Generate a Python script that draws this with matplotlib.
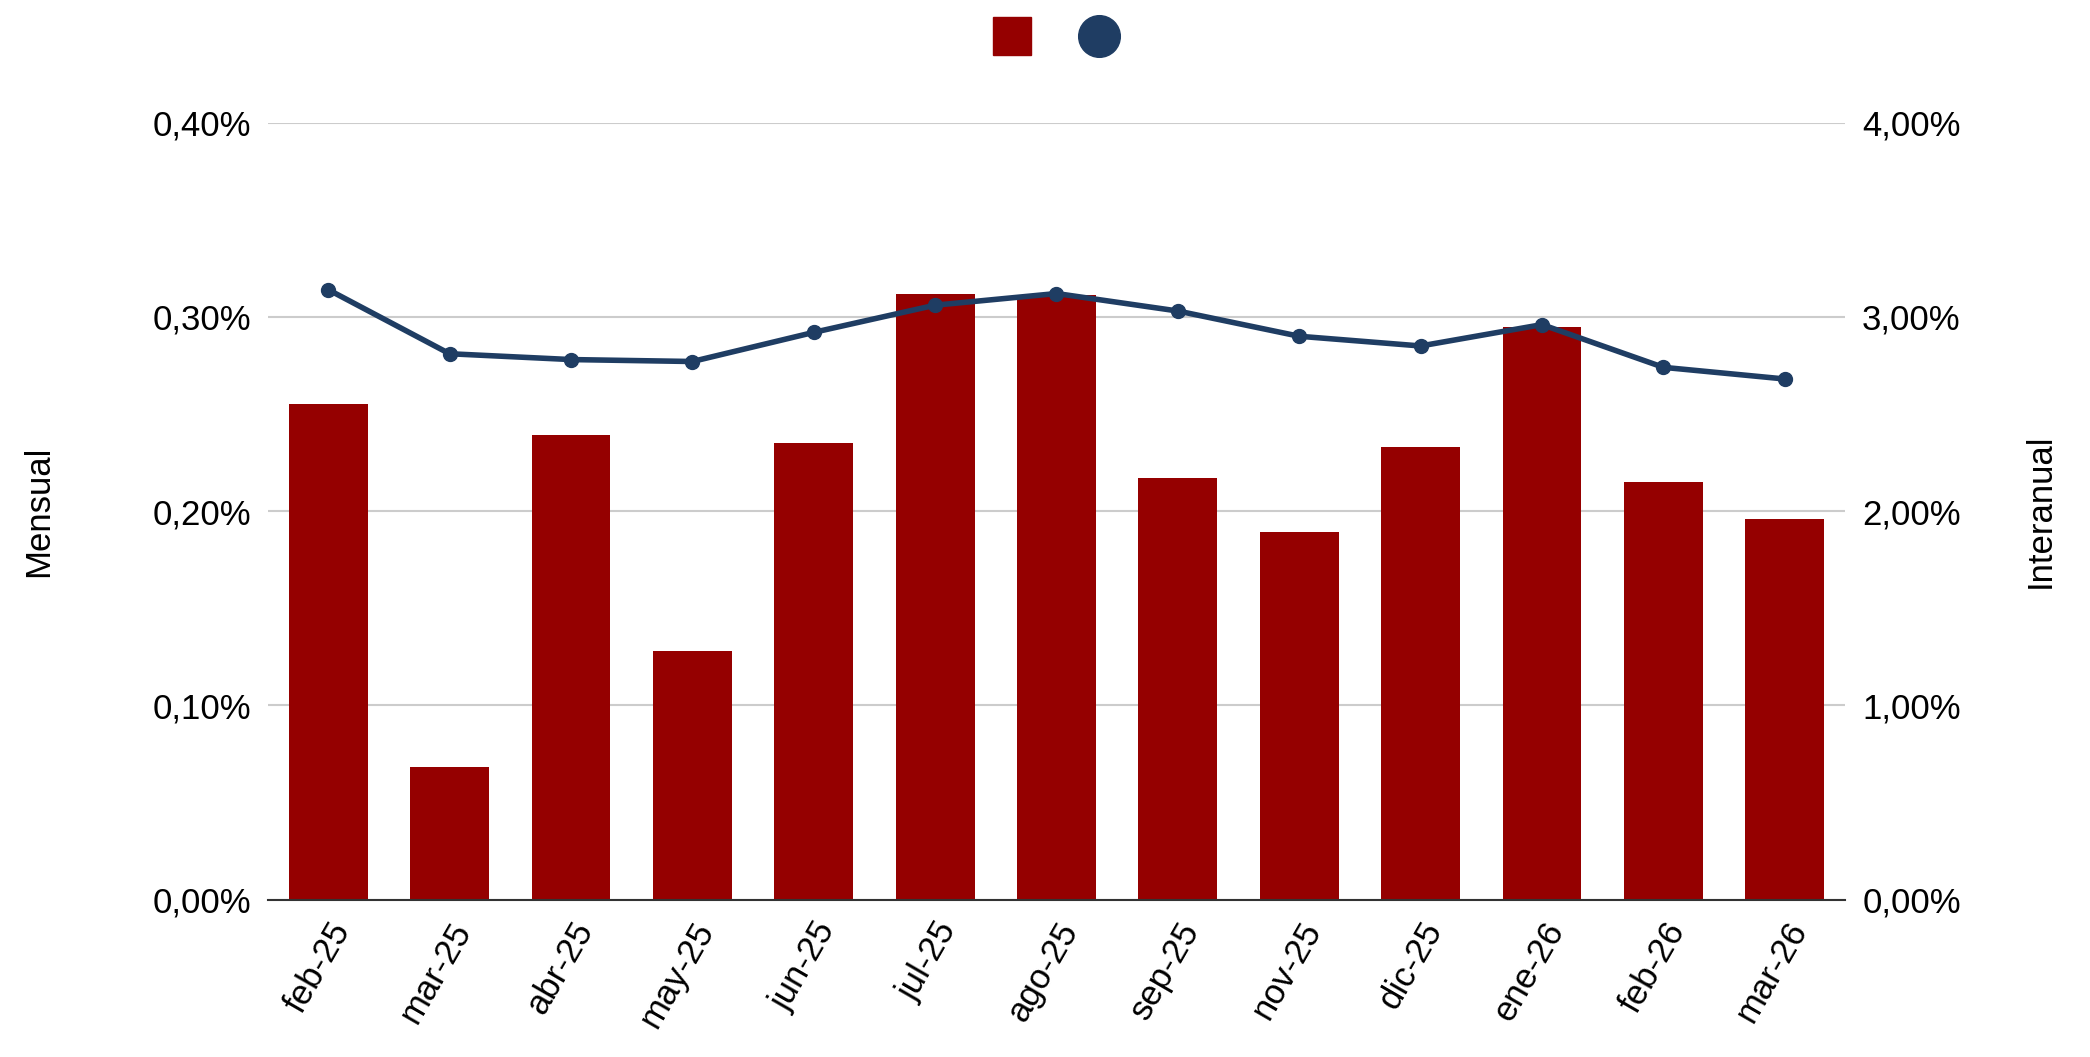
import matplotlib
matplotlib.use('Agg')
import matplotlib.pyplot as plt
from matplotlib.lines import Line2D
from matplotlib.ticker import FuncFormatter

months = ['feb-25', 'mar-25', 'abr-25', 'may-25', 'jun-25', 'jul-25', 'ago-25',
          'sep-25', 'nov-25', 'dic-25', 'ene-26', 'feb-26', 'mar-26']
mensual = [0.255, 0.068, 0.239, 0.128, 0.235, 0.312, 0.311,
           0.217, 0.189, 0.233, 0.295, 0.215, 0.196]
interanual = [3.14, 2.81, 2.78, 2.77, 2.92, 3.06, 3.12,
              3.03, 2.90, 2.85, 2.96, 2.74, 2.68]

bar_color = '#950000'
line_color = '#1f3d63'
plt.rcParams['font.family'] = ['Liberation Sans', 'DejaVu Sans']

def pct(v, pos):
    return '{:.2f}%'.format(v).replace('.', ',')

def main():
    fig = plt.figure(figsize=(20.9, 10.57), dpi=100)
    ax = fig.add_axes([0.128, 0.149, 0.755, 0.735])
    x = range(len(months))
    ax.bar(x, mensual, width=0.65, color=bar_color, zorder=2)
    ax.set_ylim(0, 0.4)
    ax.set_yticks([0, 0.1, 0.2, 0.3, 0.4])
    ax.yaxis.set_major_formatter(FuncFormatter(pct))
    ax.grid(axis='y', color='#cccccc', linewidth=1.5, zorder=0)
    ax.set_xlim(-0.5, len(months) - 0.5)
    ax.set_xticks(list(x))
    ax.set_xticklabels(months, rotation=60, ha='right', rotation_mode='anchor')
    for s in ['top', 'right', 'left']:
        ax.spines[s].set_visible(False)
    ax.spines['bottom'].set_color('#333333')
    ax.spines['bottom'].set_linewidth(1.5)
    ax.tick_params(length=0, labelsize=25, pad=12)
    ax.set_ylabel('Mensual', fontsize=25, labelpad=70)

    ax2 = ax.twinx()
    ax2.plot(list(x), interanual, color=line_color, linewidth=4, marker='o',
             markersize=10, zorder=3)
    ax2.set_ylim(0, 4)
    ax2.set_yticks([0, 1, 2, 3, 4])
    ax2.yaxis.set_major_formatter(FuncFormatter(pct))
    for s in ax2.spines.values():
        s.set_visible(False)
    ax2.tick_params(length=0, labelsize=25, pad=12)
    ax2.set_ylabel('Interanual', fontsize=25, labelpad=45)

    handles = [Line2D([], [], marker='s', color=bar_color, linestyle='', markersize=28),
               Line2D([], [], marker='o', color=line_color, linestyle='', markersize=30)]
    fig.legend(handles, ['', ''], loc='center', bbox_to_anchor=(0.505, 0.965),
               ncol=2, frameon=False, handletextpad=0, columnspacing=4.2)
    fig.savefig('out.png', dpi=100)

if __name__ == '__main__':
    main()
